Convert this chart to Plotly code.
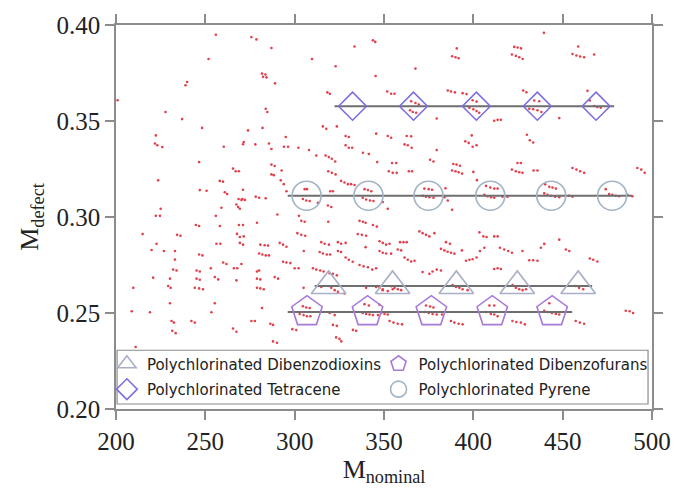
import plotly.graph_objects as go

# ---- observed ion peaks (M_nominal, M_defect) ----
peak_x = [
255.9,275.8,278.6,287.0,251.8,309.7,322.9,333.5,343.8,345.1,281.7,283.6,282.3,284.2,289.0,345.3,239.8,238.9,200.9,318.3,
319.7,351.8,354.0,355.9,283.8,284.7,227.7,237.0,248.2,273.9,282.0,295.0,315.8,317.7,323.6,328.5,330.3,345.6,352.1,354.0,
222.3,221.8,223.1,225.9,260.3,271.5,271.1,278.0,285.6,287.0,294.0,296.3,302.1,308.0,312.1,317.3,319.1,320.8,322.7,328.5,
330.3,332.2,338.2,341.5,246.5,265.5,267.0,268.8,287.0,288.8,287.0,288.3,292.7,292.2,318.8,320.8,322.9,326.0,327.9,329.8,
346.2,352.7,354.9,357.1,223.6,258.1,259.9,246.9,250.7,260.9,262.2,271.1,278.2,280.1,283.8,268.6,270.7,
439.5,390.7,388.1,390.0,391.8,422.9,424.8,426.7,421.6,423.8,425.7,427.6,458.7,455.5,457.7,459.8,462.0,467.6,367.6,385.7,
387.5,389.7,394.0,396.2,427.9,429.7,463.9,365.2,367.6,369.5,364.6,366.1,368.0,399.6,401.8,397.8,400.0,401.8,403.3,434.1,
436.9,431.3,433.5,435.9,438.1,465.2,467.6,469.4,471.3,379.5,411.7,413.6,415.4,448.1,362.7,365.2,361.5,363.3,365.5,379.5,
399.1,395.5,397.4,399.6,401.8,430.0,431.6,433.5,375.8,377.7,354.5,356.8,363.9,365.7,388.8,390.6,392.5,388.1,390.0,391.8,
393.7,400.0,402.0,424.7,426.6,421.6,423.8,425.7,427.5,433.7,435.9,455.5,457.7,459.8,462.0,491.8,494.0,495.9,372.6,375.0,
376.9,371.7,373.5,375.4,377.7,384.4,383.8,385.7,407.1,409.5,411.7,413.6,406.2,408.0,409.9,411.7,416.3,419.1,440.2,442.5,
444.3,446.2,439.7,441.5,443.4,445.8,448.1,453.6,455.5,474.1,476.0,477.8,479.7,481.6,486.2,489.0,
352.1,388.1,369.8,371.6,373.5,375.4,378.2,403.4,405.6,407.4,411.7,413.6,347.5,349.3,351.2,353.1,359.0,360.9,362.7,347.5,
349.3,351.2,354.0,357.7,359.6,384.7,386.9,381.9,383.8,385.6,387.5,389.4,393.6,403.7,406.2,414.9,417.3,419.5,421.6,427.5,
437.8,439.7,448.1,451.8,453.7,361.5,363.3,365.2,367.1,395.9,397.8,399.6,401.8,431.3,433.5,435.9,465.2,467.1,469.4,371.6,
375.4,377.2,379.5,381.9,411.7,413.6,415.4,347.5,349.3,354.0,355.9,357.7,359.6,388.4,390.3,392.2,394.0,396.8,421.9,423.8,
425.7,427.6,429.5,457.3,459.2,461.5,485.3,487.5,489.4,347.5,348.4,350.3,352.1,373.5,375.8,377.7,372.6,375.0,377.2,379.5,
382.5,409.0,411.7,407.0,409.8,411.7,413.6,442.5,439.7,441.5,444.0,446.2,448.1,451.8,353.1,355.3,357.7,360.1,387.5,389.4,
391.8,394.0,421.9,424.1,426.6,428.8,457.3,459.6,462.0,
270.2,272.1,225.0,222.3,224.6,259.0,267.4,268.3,269.3,255.9,290.3,302.4,303.7,305.6,318.8,336.3,338.2,339.7,343.8,346.0,
244.7,246.5,258.1,268.8,271.1,278.9,214.9,234.2,236.1,267.7,269.3,271.5,301.5,303.7,305.9,335.3,337.6,340.0,314.9,316.8,
319.2,324.2,326.0,328.5,222.7,256.2,258.4,269.3,271.1,280.8,283.2,285.1,291.6,293.5,295.4,219.9,226.8,233.0,246.5,248.4,
280.1,281.9,283.8,285.6,305.1,314.0,315.8,318.0,319.9,324.2,326.0,233.0,260.0,261.8,270.2,232.0,233.9,245.1,246.9,253.1,
266.0,267.9,278.9,280.1,293.5,295.4,297.6,300.0,302.2,310.2,312.1,314.3,316.2,328.5,330.3,332.5,336.3,338.6,341.0,343.4,
345.6,209.7,220.8,230.2,229.2,230.6,245.1,246.9,244.1,246.5,248.7,255.3,257.2,267.4,278.9,280.8,278.9,280.8,282.7,288.8,
290.7,305.0,313.0,314.9,320.5,322.4,324.2,328.0,340.0,345.6,349.3,352.1,354.9,208.8,219.0,230.2,253.4,255.3,281.7,304.6,
306.5,308.4,302.8,305.0,306.9,308.8,339.1,341.5,338.1,340.0,341.9,343.8,346.6,319.6,322.4,321.4,323.6,231.1,232.4,242.2,
244.1,265.5,275.8,277.7,286.4,287.9,298.7,300.9,
287.9,290.1,211.0,267.4,231.5,233.4,323.2,325.1,326.1,293.9,295.4,331.6,333.5,319.9,321.4,305.6,306.9,304.6,306.5,308.4,
313.0,339.1,341.0,342.9,338.1,340.0,342.2,344.1,349.3,318.6,320.5,332.6,334.4,339.7,319.6,321.4,323.6,
]
peak_y = [
0.3949,0.3937,0.3925,0.3880,0.3823,0.3823,0.3785,0.3888,0.3920,0.3912,0.3747,0.3742,0.3730,0.3727,0.3696,0.3734,0.3703,0.3686,0.3608,0.3649,
0.3642,0.3654,0.3642,0.3642,0.3564,0.3547,0.3547,0.3510,0.3464,0.3451,0.3464,0.3417,0.3472,0.3459,0.3472,0.3422,0.3417,0.3434,0.3422,0.3413,
0.3425,0.3383,0.3374,0.3364,0.3366,0.3391,0.3379,0.3378,0.3383,0.3354,0.3366,0.3366,0.3361,0.3349,0.3320,0.3320,0.3312,0.3303,0.3289,0.3374,
0.3361,0.3361,0.3335,0.3328,0.3286,0.3252,0.3238,0.3238,0.3273,0.3266,0.3222,0.3218,0.3242,0.3191,0.3238,0.3230,0.3222,0.3188,0.3180,0.3171,
0.3286,0.3238,0.3230,0.3230,0.3191,0.3188,0.3184,0.3140,0.3137,0.3129,0.3120,0.3142,0.3106,0.3100,0.3098,0.3094,0.3094,
0.3959,0.3878,0.3837,0.3832,0.3827,0.3886,0.3883,0.3878,0.3846,0.3839,0.3832,0.3823,0.3888,0.3849,0.3841,0.3836,0.3832,0.3846,0.3773,0.3659,
0.3654,0.3649,0.3645,0.3640,0.3659,0.3650,0.3657,0.3603,0.3594,0.3586,0.3556,0.3547,0.3543,0.3608,0.3601,0.3569,0.3561,0.3552,0.3543,0.3607,
0.3603,0.3564,0.3561,0.3556,0.3547,0.3607,0.3578,0.3573,0.3569,0.3513,0.3501,0.3506,0.3506,0.3515,0.3422,0.3420,0.3378,0.3374,0.3361,0.3349,
0.3425,0.3394,0.3386,0.3366,0.3374,0.3428,0.3400,0.3388,0.3298,0.3289,0.3281,0.3281,0.3238,0.3238,0.3276,0.3273,0.3267,0.3242,0.3238,0.3233,
0.3226,0.3235,0.3192,0.3281,0.3281,0.3247,0.3238,0.3233,0.3230,0.3242,0.3242,0.3255,0.3247,0.3238,0.3230,0.3255,0.3247,0.3230,0.3148,0.3145,
0.3142,0.3111,0.3106,0.3103,0.3100,0.3150,0.3103,0.3086,0.3162,0.3153,0.3148,0.3148,0.3115,0.3108,0.3103,0.3100,0.3106,0.3106,0.3170,0.3157,
0.3153,0.3148,0.3123,0.3116,0.3111,0.3106,0.3103,0.3111,0.3106,0.3145,0.3120,0.3116,0.3111,0.3108,0.3116,0.3108,
0.3043,0.3038,0.2925,0.2916,0.2907,0.2899,0.2916,0.2920,0.2899,0.2896,0.2899,0.2899,0.2874,0.2865,0.2856,0.2861,0.2869,0.2869,0.2869,0.2823,
0.2814,0.2810,0.2809,0.2831,0.2826,0.2869,0.2861,0.2834,0.2826,0.2819,0.2814,0.2809,0.2826,0.2823,0.2840,0.2840,0.2831,0.2823,0.2814,0.2823,
0.2840,0.2860,0.2882,0.2831,0.2823,0.2789,0.2777,0.2768,0.2772,0.2772,0.2777,0.2780,0.2789,0.2775,0.2775,0.2772,0.2784,0.2777,0.2768,0.2713,
0.2704,0.2716,0.2726,0.2721,0.2729,0.2733,0.2729,0.2631,0.2624,0.2639,0.2631,0.2624,0.2619,0.2645,0.2636,0.2631,0.2624,0.2619,0.2645,0.2631,
0.2624,0.2619,0.2624,0.2641,0.2631,0.2624,0.2512,0.2509,0.2500,0.2543,0.2500,0.2495,0.2492,0.2539,0.2534,0.2529,0.2505,0.2500,0.2495,0.2492,
0.2492,0.2539,0.2539,0.2505,0.2495,0.2492,0.2483,0.2551,0.2512,0.2505,0.2500,0.2495,0.2492,0.2505,0.2458,0.2450,0.2444,0.2441,0.2458,0.2450,
0.2444,0.2441,0.2458,0.2453,0.2450,0.2441,0.2458,0.2450,0.2444,
0.3089,0.3089,0.3043,0.3006,0.3006,0.3048,0.3065,0.3052,0.3043,0.3006,0.3013,0.3006,0.2980,0.2975,0.2975,0.2980,0.2975,0.2970,0.2958,0.2950,
0.2958,0.2953,0.2953,0.2958,0.2958,0.2970,0.2911,0.2907,0.2902,0.2912,0.2896,0.2899,0.2916,0.2907,0.2902,0.2911,0.2907,0.2902,0.2869,0.2861,
0.2856,0.2869,0.2861,0.2865,0.2861,0.2861,0.2861,0.2865,0.2856,0.2856,0.2853,0.2851,0.2865,0.2856,0.2845,0.2828,0.2823,0.2823,0.2805,0.2800,
0.2810,0.2805,0.2800,0.2800,0.2823,0.2818,0.2810,0.2805,0.2805,0.2823,0.2818,0.2778,0.2763,0.2755,0.2755,0.2726,0.2721,0.2721,0.2716,0.2733,
0.2733,0.2733,0.2716,0.2721,0.2767,0.2763,0.2760,0.2733,0.2733,0.2733,0.2726,0.2721,0.2716,0.2789,0.2777,0.2767,0.2750,0.2743,0.2738,0.2726,
0.2733,0.2631,0.2684,0.2679,0.2641,0.2631,0.2679,0.2673,0.2631,0.2628,0.2624,0.2687,0.2675,0.2670,0.2679,0.2675,0.2631,0.2628,0.2624,0.2687,
0.2679,0.2631,0.2641,0.2636,0.2631,0.2619,0.2610,0.2602,0.2631,0.2636,0.2619,0.2614,0.2624,0.2509,0.2504,0.2551,0.2504,0.2551,0.2526,0.2535,
0.2529,0.2526,0.2495,0.2489,0.2483,0.2483,0.2546,0.2539,0.2500,0.2495,0.2492,0.2489,0.2489,0.2500,0.2489,0.2438,0.2433,0.2458,0.2450,0.2458,
0.2450,0.2419,0.2458,0.2458,0.2444,0.2438,0.2416,0.2411,
0.2352,0.2345,0.2323,0.2402,0.2407,0.2395,0.2373,0.2365,0.2352,0.3171,0.3134,0.3171,0.3167,0.3134,0.3134,0.3145,0.3145,0.3094,0.3086,0.3083,
0.3074,0.3145,0.3140,0.3134,0.3100,0.3091,0.3086,0.3083,0.3078,0.3060,0.3052,0.2412,0.2407,0.2843,0.2707,0.2704,0.2696,
]

# ---- homologous series (theoretical positions) ----
dioxin_x = [319.0, 354.8, 390.5, 424.6, 458.7]
dioxin_y = [0.2641, 0.2641, 0.2641, 0.2641, 0.2641]
dioxin_line_x = [311.2, 466.5]
dioxin_line_y = [0.2641, 0.2641]

furan_x = [306.9, 340.8, 376.5, 410.6, 444.1]
furan_y = [0.2507, 0.2507, 0.2507, 0.2507, 0.2507]
furan_line_x = [296.1, 455.3]
furan_line_y = [0.2505, 0.2505]

tetracene_x = [332.4, 366.5, 401.7, 435.8, 468.7]
tetracene_y = [0.3577, 0.3577, 0.3577, 0.3577, 0.3577]
tetracene_line_x = [322.3, 478.8]
tetracene_line_y = [0.3577, 0.3577]

pyrene_x = [306.7, 341.3, 374.9, 409.5, 443.6, 477.7]
pyrene_y = [0.3111, 0.3111, 0.3111, 0.3111, 0.3111, 0.3111]
pyrene_line_x = [296.1, 488.8]
pyrene_line_y = [0.3111, 0.3111]

x_ticks = [200, 250, 300, 350, 400, 450, 500]
y_ticks = [0.20, 0.25, 0.30, 0.35, 0.40]

fig = go.Figure()

fig.add_trace(go.Scatter(x=peak_x, y=peak_y, mode="markers", showlegend=False,
                         marker=dict(size=2.6, color="#e2404c"), hoverinfo="skip"))

line_col = "#6e6e6e"
for lx, ly in [(tetracene_line_x, tetracene_line_y), (pyrene_line_x, pyrene_line_y),
               (dioxin_line_x, dioxin_line_y), (furan_line_x, furan_line_y)]:
    fig.add_trace(go.Scatter(x=lx, y=ly, mode="lines", showlegend=False,
                             line=dict(color=line_col, width=2), hoverinfo="skip"))

series = [
    ("Polychlorinated Dibenzodioxins", dioxin_x, dioxin_y, "triangle-up-open", 30, "#a9afc6", "legend"),
    ("Polychlorinated Dibenzofurans", furan_x, furan_y, "pentagon-open", 32, "#a77ad8", "legend2"),
    ("Polychlorinated Tetracene", tetracene_x, tetracene_y, "diamond-open", 21.5, "#7b6fe0", "legend3"),
    ("Polychlorinated Pyrene", pyrene_x, pyrene_y, "circle-open", 29, "#a3b5c6", "legend4"),
]
for name, sx, sy, sym, sz, col, lg in series:
    fig.add_trace(go.Scatter(x=sx, y=sy, mode="markers", name=name, legend=lg,
                             marker=dict(symbol=sym, size=sz, color=col,
                                         line=dict(color=col, width=1.6))))

axis_common = dict(showline=True, linecolor="#8c8c8c", linewidth=1.5, mirror="ticks",
                   ticks="outside", ticklen=9, tickcolor="#8c8c8c", tickwidth=1.5,
                   showgrid=False, zeroline=False,
                   tickfont=dict(family="Liberation Serif", size=25, color="#222222"))

fig.update_xaxes(range=[200, 500], tickvals=x_ticks, ticktext=[str(v) for v in x_ticks],
                 title=dict(text="M<sub>nominal</sub>", standoff=4,
                            font=dict(family="Liberation Serif", size=26, color="#222222")),
                 **axis_common)
fig.update_yaxes(range=[0.20, 0.40], tickvals=y_ticks, ticktext=["%.2f" % v for v in y_ticks],
                 title=dict(text="M<sub>defect</sub>", standoff=10,
                            font=dict(family="Liberation Serif", size=26, color="#222222")),
                 **axis_common)

leg_common = dict(orientation="h", bgcolor="rgba(0,0,0,0)", borderwidth=0,
                  font=dict(family="DejaVu Sans", size=15, color="#222222"),
                  xanchor="left", yanchor="middle",
                  itemclick=False, itemdoubleclick=False)

fig.update_layout(
    width=683, height=494,
    margin=dict(l=116, r=30, t=17, b=85),
    paper_bgcolor="white", plot_bgcolor="white",
    legend=dict(x=-0.017, y=0.117, **leg_common),
    legend2=dict(x=0.4898, y=0.117, **leg_common),
    legend3=dict(x=-0.017, y=0.051, **leg_common),
    legend4=dict(x=0.4898, y=0.051, **leg_common),
    shapes=[dict(type="rect", xref="paper", yref="paper", x0=0.002, x1=0.9926,
                 y0=0.013, y1=0.153, line=dict(color="#8c8c8c", width=1.2),
                 fillcolor="white", layer="above")],
)

fig.write_html("out.html")
